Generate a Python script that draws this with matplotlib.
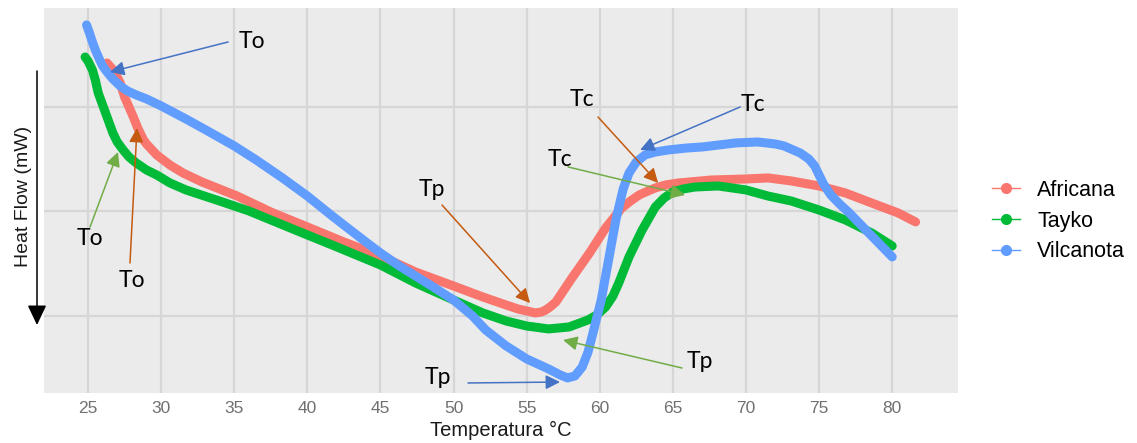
import matplotlib
matplotlib.use("Agg")
import matplotlib.pyplot as plt
from matplotlib.lines import Line2D
from matplotlib.patches import FancyArrowPatch

# ---------------- data (Temperature °C, heat flow, arbitrary units) ----------------
vil_T = [24.9, 25.1, 25.3, 25.5, 25.8, 26.0, 26.3, 26.7, 27.2, 27.7, 28.3, 29.0, 30.0,
         31.7, 33.3, 35.0, 36.5, 38.3, 40.0, 41.7, 44.0, 45.0, 46.3, 48.5, 50.0, 51.3,
         52.2, 53.6, 55.0, 56.5, 57.3, 57.8, 58.3, 58.8, 59.2, 59.5, 60.1, 60.6, 61.1,
         61.6, 62.0, 62.5, 63.1, 63.8, 64.7, 66.0, 67.0, 69.3, 70.8, 72.0, 72.6, 73.7,
         74.3, 74.7, 75.0, 75.3, 75.8, 76.4, 77.0, 78.4, 80.0]
vil_H = [2.785, 2.708, 2.622, 2.545, 2.450, 2.392, 2.335, 2.268, 2.201, 2.153, 2.115, 2.077, 2.010,
         1.885, 1.761, 1.627, 1.493, 1.321, 1.148, 0.957, 0.708, 0.603, 0.478, 0.287, 0.153, 0.000,
         -0.134, -0.287, -0.411, -0.507, -0.565, -0.593, -0.574, -0.488, -0.344, -0.182, 0.153, 0.536, 0.919,
         1.215, 1.368, 1.474, 1.541, 1.569, 1.589, 1.608, 1.617, 1.656, 1.665, 1.646, 1.627, 1.560,
         1.502, 1.435, 1.349, 1.263, 1.158, 1.072, 0.995, 0.794, 0.565]

afr_T = [26.3, 26.6, 27.0, 27.2, 27.5, 27.8, 28.1, 28.4, 28.8, 29.0, 29.7, 30.6, 31.5, 32.8,
         34.0, 35.2, 37.5, 40.0, 42.5, 45.0, 47.4, 50.0, 52.0, 53.6, 54.4, 55.0, 55.6, 56.0,
         56.3, 56.6, 57.0, 58.1, 59.3, 60.4, 61.5, 62.1, 62.7, 63.3, 63.8, 64.5, 65.4, 67.6,
         70.0, 71.5, 73.1, 75.0, 76.8, 78.6, 80.4, 81.6]
afr_H = [2.421, 2.373, 2.287, 2.230, 2.096, 2.000, 1.904, 1.799, 1.684, 1.646, 1.541, 1.445, 1.368, 1.282,
         1.215, 1.148, 0.995, 0.852, 0.708, 0.574, 0.421, 0.287, 0.182, 0.105, 0.067, 0.048, 0.029, 0.038,
         0.057, 0.086, 0.134, 0.364, 0.603, 0.842, 1.033, 1.100, 1.158, 1.196, 1.225, 1.254, 1.273, 1.301,
         1.311, 1.321, 1.292, 1.244, 1.177, 1.081, 0.986, 0.900]

tay_T = [24.8, 25.0, 25.3, 25.5, 25.7, 26.0, 26.2, 26.7, 27.0, 27.4, 27.8, 28.3, 29.0, 29.7,
         30.6, 31.7, 34.0, 36.0, 39.5, 41.7, 45.0, 47.4, 50.0, 52.0, 53.6, 55.0, 56.5, 57.9,
         59.2, 59.8, 60.4, 60.9, 61.3, 62.0, 62.9, 63.8, 64.4, 65.0, 65.7, 66.5, 68.1, 70.0,
         71.5, 73.1, 75.0, 76.8, 78.6, 80.0]
tay_H = [2.478, 2.440, 2.354, 2.258, 2.134, 2.019, 1.943, 1.751, 1.665, 1.589, 1.522, 1.464, 1.397, 1.349,
         1.273, 1.206, 1.100, 1.005, 0.804, 0.679, 0.488, 0.316, 0.153, 0.029, -0.048, -0.096, -0.124, -0.105,
         -0.038, 0.010, 0.086, 0.191, 0.316, 0.565, 0.823, 1.043, 1.129, 1.187, 1.215, 1.234, 1.244, 1.206,
         1.148, 1.100, 1.014, 0.919, 0.794, 0.670]

series_names = ["Africana", "Tayko", "Vilcanota"]
series_colors = ["#F8766D", "#00BA38", "#619CFF"]
x_ticks = [25, 30, 35, 40, 45, 50, 55, 60, 65, 70, 75, 80]
y_grid = [0, 1, 2]

# annotations: label, text pos, arrow tail, arrow tip, colour
ann_labels = ["To", "To", "To", "Tp", "Tc", "Tc", "Tc", "Tp", "Tp"]
ann_text = [(36.22, 2.622), (25.14, 0.746), (28.01, 0.344), (48.53, 1.206), (58.80, 2.067),
            (70.49, 2.019), (57.28, 1.493), (66.86, -0.440), (48.94, -0.584)]
ann_tail = [(34.58, 2.622), (25.14, 0.852), (27.87, 0.507), (49.21, 1.062), (59.88, 1.904),
            (69.60, 2.000), (57.83, 1.426), (65.63, -0.498), (50.99, -0.641)]
ann_tip = [(26.50, 2.335), (27.05, 1.569), (28.35, 1.799), (55.23, 0.124), (63.99, 1.273),
           (62.76, 1.589), (65.83, 1.158), (57.49, -0.230), (57.28, -0.632)]
ann_colors = ["#4472C4", "#70AD47", "#C55A11", "#C55A11", "#C55A11",
              "#4472C4", "#70AD47", "#70AD47", "#4472C4"]

# ---------------- figure ----------------
W, H = 1137, 443
fig = plt.figure(figsize=(W / 100, H / 100), dpi=100)
fig.patch.set_facecolor("white")
ax = fig.add_axes([44 / W, (H - 393) / H, 914 / W, 385 / H])
ax.set_facecolor("#EBEBEB")
for s in ax.spines.values():
    s.set_visible(False)

ax.set_xlim(21.99, 84.5)
ax.set_ylim(-0.737, 2.947)
ax.set_xticks(x_ticks)
ax.set_yticks(y_grid)
ax.set_yticklabels([])
ax.tick_params(axis="both", length=0)
ax.tick_params(axis="x", pad=6, labelsize=12.5, labelcolor="#707070")
for lab in ax.get_xticklabels():
    lab.set_fontfamily("Liberation Sans")
ax.grid(True, color="#D6D6D6", linewidth=1.6)
ax.set_axisbelow(True)

for T, Hf, c in zip([afr_T, tay_T, vil_T], [afr_H, tay_H, vil_H], series_colors):
    ax.plot(T, Hf, color=c, lw=6.5, solid_capstyle="round", solid_joinstyle="round", zorder=3)

for lab, tp, tl, tip, c in zip(ann_labels, ann_text, ann_tail, ann_tip, ann_colors):
    ax.annotate("", xy=tip, xytext=tl,
                arrowprops=dict(arrowstyle="-|>,head_length=0.86,head_width=0.43",
                                mutation_scale=10, color=c, lw=1.1,
                                shrinkA=0, shrinkB=0), zorder=5)
    ax.text(tp[0], tp[1], lab, ha="center", va="center", fontsize=16.5,
            family="Lato", color="black", zorder=6)

# vertical black arrow next to the y label
fig.add_artist(FancyArrowPatch(
    (37 / W, (H - 71) / H), (37 / W, (H - 325) / H), transform=fig.transFigure,
    arrowstyle="-|>,head_length=1.22,head_width=0.58", mutation_scale=10,
    color="black", lw=1.1, shrinkA=0, shrinkB=0))

fig.text(24 / W, (H - 196) / H, "Heat Flow (mW)", rotation=90, ha="center", va="center",
         fontsize=14, family="Liberation Sans", color="#1A1A1A")
fig.text(501 / W, (H - 430) / H, "Temperatura °C", ha="center", va="center",
         fontsize=14.5, family="Liberation Sans", color="#1A1A1A")

handles = [Line2D([0], [0], color=c, lw=1.0, marker="o", markersize=7) for c in series_colors]
leg = fig.legend(handles, series_names, loc="center left",
                 bbox_to_anchor=(992 / W, (H - 221) / H), frameon=False,
                 prop={"family": "Liberation Sans", "size": 15.5},
                 handlelength=1.3, handletextpad=0.8, labelspacing=0.45,
                 borderaxespad=0, borderpad=0)

fig.savefig("out.png", dpi=100, facecolor="white")
